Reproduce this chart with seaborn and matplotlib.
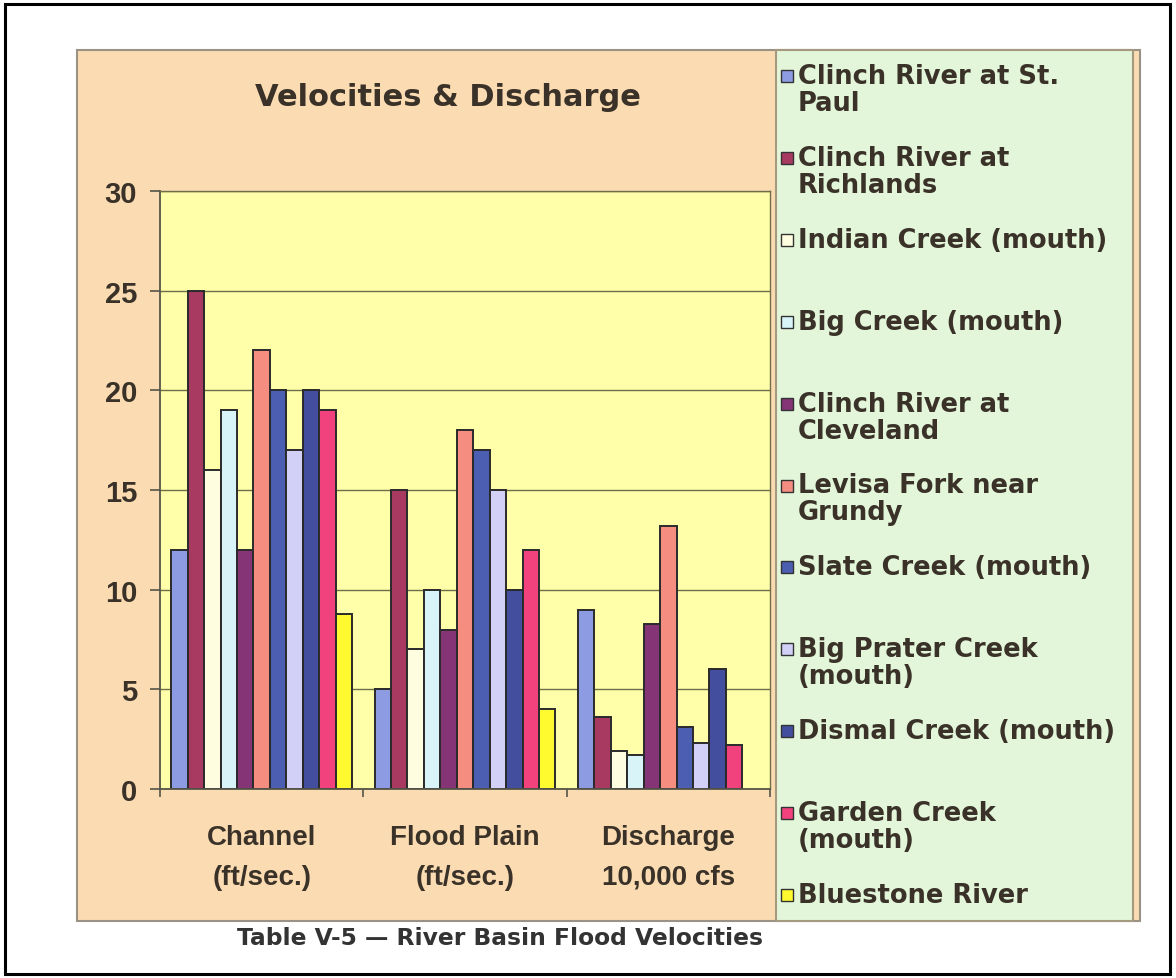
import numpy as np
import pandas as pd
import matplotlib
matplotlib.use("Agg")
import matplotlib.pyplot as plt
from matplotlib.patches import Rectangle
import seaborn as sns

# --- data ---
measures = ["Channel\n(ft/sec.)", "Flood Plain\n(ft/sec.)", "Discharge\n10,000 cfs"]
stations = ["Clinch River at St. Paul", "Clinch River at Richlands", "Indian Creek (mouth)",
            "Big Creek (mouth)", "Clinch River at Cleveland", "Levisa Fork near Grundy",
            "Slate Creek (mouth)", "Big Prater Creek (mouth)", "Dismal Creek (mouth)",
            "Garden Creek (mouth)", "Bluestone River"]
legend_labels = ["Clinch River at St.\nPaul", "Clinch River at\nRichlands", "Indian Creek (mouth)",
                 "Big Creek (mouth)", "Clinch River at\nCleveland", "Levisa Fork near\nGrundy",
                 "Slate Creek (mouth)", "Big Prater Creek\n(mouth)", "Dismal Creek (mouth)",
                 "Garden Creek\n(mouth)", "Bluestone River"]
channel = [12, 25, 16, 19, 12, 22, 20, 17, 20, 19, 8.8]
flood_plain = [5, 15, 7, 10, 8, 18, 17, 15, 10, 12, 4]
discharge = [9, 3.6, 1.9, 1.7, 8.3, 13.2, 3.1, 2.3, 6.0, 2.2, np.nan]
colors = ["#8C9BE2", "#A83A62", "#FFFDE0", "#D8F4F8", "#853475", "#F58D80",
          "#4B5EB2", "#D2D0F6", "#434E9E", "#F2427E", "#FFFA30"]
title = "Velocities & Discharge"
caption = "Table V-5 \u2014 River Basin Flood Velocities"

df = pd.DataFrame({
    "Measure": np.repeat(measures, len(stations)),
    "Station": stations * len(measures),
    "Value": channel + flood_plain + discharge,
})

W, H = 1176, 979
TXT = "#3a3228"
plt.rcParams["font.family"] = ["DejaVu Sans"]
plt.rcParams["font.weight"] = "bold"

fig = plt.figure(figsize=(W / 100, H / 100), dpi=100)
fig.patch.set_facecolor("white")


def box(x0, y0, x1, y1, z=-5, **kw):
    # rectangle given in pixel coords (y from top)
    fig.add_artist(Rectangle((x0 / W, 1 - y1 / H), (x1 - x0) / W, (y1 - y0) / H,
                             transform=fig.transFigure, zorder=z, **kw))


box(5, 5, 1170, 975, facecolor="white", edgecolor="black", lw=2.2, z=-10)
box(77, 51, 1140, 922, facecolor="#FBDCB2", edgecolor="#9a9385", lw=1.5, z=-9)
box(776, 51, 1133, 922, facecolor="#E3F6DA", edgecolor="#a59a80", lw=1.5, z=-8)

ax = fig.add_axes([160 / W, 1 - 790 / H, 610 / W, 598 / H])
ax.set_zorder(1)
ax.set_facecolor("#FFFFAA")
sns.barplot(data=df, x="Measure", y="Value", hue="Station", hue_order=stations,
            order=measures, palette=colors, saturation=1, width=0.89,
            edgecolor="#2a2a2a", linewidth=1.4, legend=False, ax=ax)

ax.set_ylim(0, 30)
ax.set_xlim(-0.5, 2.5)
ax.set_yticks(range(0, 31, 5))
ax.yaxis.grid(True, color="#6e6e48", lw=1.0)
ax.set_axisbelow(True)
ax.set_xlabel("")
ax.set_ylabel("")
for s in ["top", "right"]:
    ax.spines[s].set_color("#6e6e48")
    ax.spines[s].set_linewidth(1.0)
for s in ["left", "bottom"]:
    ax.spines[s].set_color("#555548")
    ax.spines[s].set_linewidth(1.3)

ax.tick_params(axis="y", length=7.5, width=1.2, color="#555548", pad=9,
               labelsize=21, labelcolor=TXT)
ax.tick_params(axis="x", which="major", length=0, pad=25, labelsize=20, labelcolor=TXT)
ax.set_xticks([-0.5, 0.5, 1.5, 2.5], minor=True)
ax.tick_params(axis="x", which="minor", length=6, width=1.2, color="#555548")
for t in ax.get_xticklabels() + ax.get_yticklabels():
    t.set_fontfamily(["Liberation Sans", "DejaVu Sans"])
    t.set_fontweight("bold")
for t in ax.get_xticklabels():
    t.set_linespacing(1.7)

fig.text(448 / W, 1 - 98 / H, title, ha="center", va="center",
         fontsize=22, fontweight="bold", color=TXT)
fig.text(500 / W, 1 - 939 / H, caption, ha="center", va="center",
         fontsize=16.8, fontweight="bold", color="#333333")

# legend entries sit in equal slots down the green panel
pitch = 81.9
for i, (lab, col) in enumerate(zip(legend_labels, colors)):
    yc = 77 + i * pitch
    box(781, yc - 6, 793, yc + 6, z=2, facecolor=col, edgecolor="#333333", lw=1.0)
    fig.text(798 / W, 1 - (yc - 13) / H, lab, ha="left", va="top",
             fontsize=18.5, fontweight="bold", color=TXT, linespacing=1.05)

fig.savefig("out.png", dpi=100)
